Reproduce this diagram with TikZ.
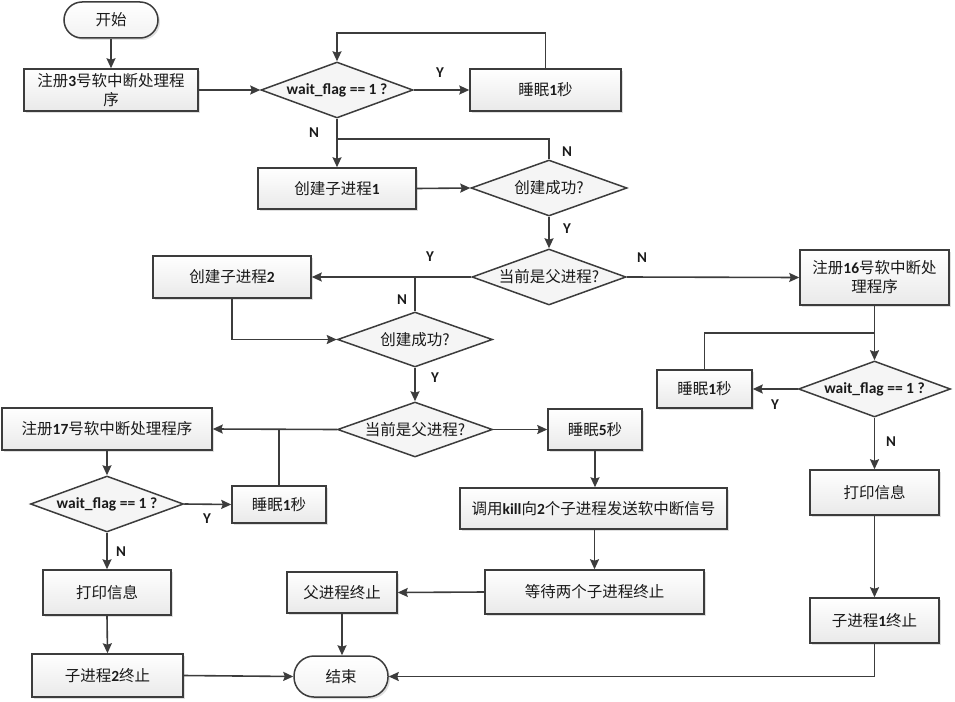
\documentclass[tikz,border=0pt]{standalone}
\usepackage{fontspec}
\setmainfont{Noto Sans CJK SC}
\newfontfamily\lat{Carlito}
\newcommand\B[1]{{\lat\bfseries #1}}
\usetikzlibrary{shapes.geometric,arrows.meta,shadows}
\definecolor{ln}{HTML}{3C3C3C}
\definecolor{txt}{HTML}{1A1A1A}
\tikzset{
  base/.style={draw=ln, line width=1.5pt, text=txt, font=\fontsize{15.5}{19}\selectfont, inner sep=0pt, align=center},
  box/.style={base, rectangle, top color=white, bottom color=gray!17,
     drop shadow={shadow xshift=2pt, shadow yshift=-2pt, opacity=0.25, fill=gray}},
  dia/.style={base, diamond, fill=gray!8, shape aspect=2.7},
  term/.style={base, rectangle, top color=white, bottom color=gray!10,
     drop shadow={shadow xshift=2pt, shadow yshift=-2pt, opacity=0.25, fill=gray}},
  arr/.style={draw=ln, line width=1.6pt, -{Stealth[length=10pt,width=9pt,inset=1.5pt]}},
  ln/.style={draw=ln, line width=1.6pt},
  yn/.style={font=\lat\bfseries\fontsize{15}{18}\selectfont, text=txt, inner sep=0pt}
}
\begin{document}
\begin{tikzpicture}[x=1pt,y=-1pt]
\useasboundingbox (0,0) rectangle (955,701);
% nodes
\node[term, rounded corners=18pt, minimum width=94pt, minimum height=36pt] (start) at (111,20) {开始};
\node[box, minimum width=174pt, minimum height=42pt] (reg3) at (111,90) {注册\B{3}号软中断处理程\\序};
\node[dia, minimum width=152pt, minimum height=56pt] (d1) at (337,90) {\B{wait\_flag == 1 ?}};
\node[box, minimum width=151pt, minimum height=42pt] (sl1a) at (545.5,90) {睡眠\B{1}秒};
\node[box, minimum width=158pt, minimum height=41pt] (cr1) at (337,188.5) {创建子进程\B{1}};
\node[dia, minimum width=156pt, minimum height=56pt] (d2) at (549,188) {创建成功?};
\node[dia, minimum width=154pt, minimum height=56pt] (d3) at (549,277) {当前是父进程?};
\node[box, minimum width=158pt, minimum height=42pt] (cr2) at (232,277) {创建子进程\B{2}};
\node[dia, minimum width=155pt, minimum height=55pt] (d4) at (415,339.5) {创建成功?};
\node[dia, minimum width=155pt, minimum height=55pt] (d5) at (415,429.5) {当前是父进程?};
\node[box, minimum width=210pt, minimum height=42pt] (reg17) at (107,429) {注册\B{17}号软中断处理程序};
\node[dia, minimum width=153pt, minimum height=56pt] (d6) at (107,504) {\B{wait\_flag == 1 ?}};
\node[box, minimum width=94pt, minimum height=37pt] (sl1c) at (279,504.5) {睡眠\B{1}秒};
\node[box, minimum width=128pt, minimum height=45pt] (pr2) at (107,592.5) {打印信息};
\node[box, minimum width=151pt, minimum height=43pt] (ch2) at (107.5,675.5) {子进程\B{2}终止};
\node[term, rounded corners=20pt, minimum width=94pt, minimum height=41pt] (end) at (341,676.5) {结束};
\node[box, minimum width=94pt, minimum height=41pt] (sl5) at (595,429.5) {睡眠\B{5}秒};
\node[box, minimum width=267pt, minimum height=41pt] (kill) at (593.5,508.5) {调用\B{kill}向\B{2}个子进程发送软中断信号};
\node[box, minimum width=219pt, minimum height=44pt] (wt2) at (594.5,592) {等待两个子进程终止};
\node[box, minimum width=110pt, minimum height=41pt] (pe) at (342,592.5) {父进程终止};
\node[box, minimum width=149pt, minimum height=55pt] (reg16) at (874.5,277.5) {注册\B{16}号软中断处\\理程序};
\node[dia, minimum width=152pt, minimum height=56pt] (d7) at (874.5,389) {\B{wait\_flag == 1 ?}};
\node[box, minimum width=95pt, minimum height=38pt] (sl1b) at (704.5,389) {睡眠\B{1}秒};
\node[box, minimum width=129pt, minimum height=45pt] (pr1) at (874.5,492.5) {打印信息};
\node[box, minimum width=129pt, minimum height=45pt] (ch1) at (874.5,620.5) {子进程\B{1}终止};
% junction coordinates
\coordinate (c1) at (545.5,33);
\coordinate (j1) at (337,139);
\coordinate (j2) at (415,277);
\coordinate (j3) at (279,429.5);
\coordinate (j4) at (874.5,333);
% connectors
\draw[arr] (start) -- (reg3);
\draw[arr] (reg3) -- (d1);
\draw[arr] (d1) -- (sl1a);
\draw[arr] (sl1a.north) -- (c1) -| (d1.north);
\draw[arr] (d1.south) -- (cr1.north);
\draw[ln] (j1) -| (d2.north);
\draw[arr] (cr1.east) -- (d2.west);
\draw[arr] (d2.south) -- (d3.north);
\draw[arr] (d3.west) -- (cr2.east);
\draw[ln] (j2) -- (d4.north);
\draw[arr] (cr2.south) |- (d4.west);
\draw[arr] (d4.south) -- (d5.north);
\draw[arr] (d5.west) -- (reg17.east);
\draw[ln] (sl1c.north) -- (j3);
\draw[arr] (reg17.south) -- (d6.north);
\draw[arr] (d6.east) -- (sl1c.west);
\draw[arr] (d6.south) -- (pr2.north);
\draw[arr] (pr2.south) -- (ch2.north);
\draw[arr] (ch2.east) -- (end.west);
\draw[arr] (d5.east) -- (sl5.west);
\draw[arr] (sl5.south) -- (sl5.south |- kill.north);
\draw[arr] (kill.south -| wt2.north) -- (wt2.north);
\draw[arr] (wt2.west) -- (pe.east);
\draw[arr] (pe.south) -- (pe.south |- end.north);
\draw[arr] (d3.east) -- (reg16.west);
\draw[arr] (reg16.south) -- (d7.north);
\draw[ln] (sl1b.north) |- (j4);
\draw[arr] (d7.west) -- (sl1b.east);
\draw[arr] (d7.south) -- (pr1.north);
\draw[arr] (pr1.south) -- (ch1.north);
\draw[arr] (ch1.south) |- (end.east);
% labels
\node[yn] (l1) at (440,73) {Y};
\node[yn] (l2) at (314,133) {N};
\node[yn] (l3) at (567,152) {N};
\node[yn] (l4) at (567,229) {Y};
\node[yn] (l5) at (430,257) {Y};
\node[yn] (l6) at (402,300) {N};
\node[yn] (l7) at (435,378) {Y};
\node[yn] (l8) at (642,258) {N};
\node[yn] (l9) at (775,405) {Y};
\node[yn] (l10) at (891,442) {N};
\node[yn] (l11) at (207,519) {Y};
\node[yn] (l12) at (121,552) {N};
\end{tikzpicture}
\end{document}
